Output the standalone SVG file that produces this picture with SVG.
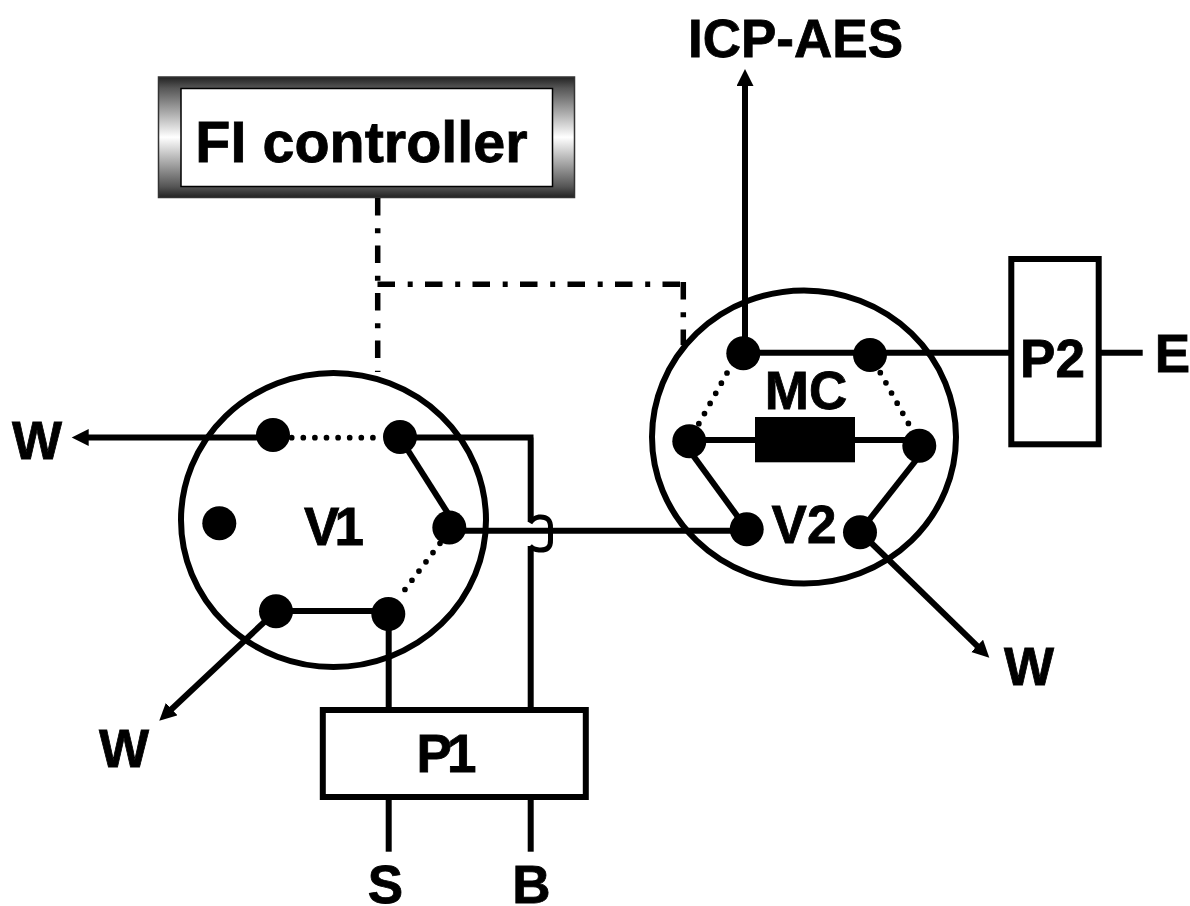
<svg xmlns="http://www.w3.org/2000/svg" width="1190" height="906" viewBox="0 0 1190 906">
<defs>
<linearGradient id="gv" x1="0" y1="0" x2="0" y2="1"><stop offset="0" stop-color="#222"/><stop offset="0.09" stop-color="#555"/><stop offset="0.5" stop-color="#fff"/><stop offset="0.91" stop-color="#555"/><stop offset="1" stop-color="#222"/></linearGradient>
<marker id="arr" markerUnits="userSpaceOnUse" markerWidth="18" markerHeight="18" refX="5" refY="8.500" orient="auto"><path d="M0 0L17 8.500L0 17Z" fill="#000"/></marker>
</defs>
<style>
text{font-family:"Liberation Sans",Arial,sans-serif;font-weight:bold;fill:#000;stroke:#000;stroke-width:.8;text-anchor:middle}
.l{font-size:53px}
.n{font-size:53px;letter-spacing:-5px}
.c{stroke:#000;stroke-width:6;fill:none}
.t{stroke:#000;stroke-width:6;fill:none}
.dot{stroke:#000;stroke-width:5.700;fill:none;stroke-dasharray:0 11.600;stroke-linecap:round}
.dd{stroke:#000;stroke-width:5.500;fill:none;stroke-dasharray:17.500 12.700 5 12.300}
.p{fill:#000}
.box{fill:#fff;stroke:#000;stroke-width:6}
</style>
<g id="controller">
<rect x="158.500" y="77" width="416" height="120.500" fill="url(#gv)" stroke="#333" stroke-width="1.500"/>
<rect x="181" y="88.500" width="371.500" height="98" fill="#fff" stroke="#000" stroke-width="1.500"/>
<text x="361.500" y="161.700" font-size="57.500">FI controller</text>
</g>
<g id="connectors">
<path class="dd" d="M377.700 198V372"/>
<path class="dd" d="M377.500 284.300H685"/>
<path class="dd" d="M683.300 282V345"/>
<path class="t" d="M745 352V81" marker-end="url(#arr)"/>
<path class="t" d="M743 352.700H1011"/>
<path class="t" d="M1099 352.700H1142.700"/>
<path class="t" d="M689 440H919"/>
<path class="t" d="M692 454L738 517"/>
<path class="t" d="M917 459L869 520"/>
<path class="t" d="M860 532L980.700 649.300" marker-end="url(#arr)"/>
<path class="dot" d="M727 373L698.700 424"/>
<path class="dot" d="M880.300 372.700L908.700 424"/>
<path class="t" d="M273 437.500H83.700" marker-end="url(#arr)"/>
<path class="dot" d="M291.700 437.700H384"/>
<path class="t" d="M400 437.500H533.500M530.700 437.500V522"/>
<path class="t" d="M402 441L449 515"/>
<path class="t" d="M449 530.700H747"/>
<path d="M530 523Q533 518 539 517Q551 516 550.500 528V540Q551 551 539 550Q533 549.500 530 546" stroke="#000" stroke-width="5" fill="none"/>
<path class="t" d="M530.700 546V709"/>
<path class="dot" d="M440 543.300L398.300 598.300"/>
<path class="t" d="M276 611H388.700V709"/>
<path class="t" d="M276 611L168 712.500" marker-end="url(#arr)"/>
<path class="t" d="M388.700 797V851.700"/>
<path class="t" d="M530.700 797V851.700"/>
</g>
<g id="V1">
<ellipse class="c" cx="333.500" cy="520" rx="152.500" ry="147"/>
<circle class="p" cx="273" cy="435" r="17"/>
<circle class="p" cx="400" cy="437" r="17"/>
<circle class="p" cx="449.300" cy="527.500" r="17"/>
<circle class="p" cx="388.300" cy="614" r="17"/>
<circle class="p" cx="276" cy="611.300" r="17"/>
<circle class="p" cx="219.300" cy="523.300" r="17"/>
<text x="331.500" y="545" class="n">V1</text>
</g>
<g id="V2">
<ellipse class="c" cx="804" cy="437" rx="152" ry="146.500"/>
<circle class="p" cx="743.300" cy="353.300" r="17"/>
<circle class="p" cx="870" cy="355" r="17"/>
<circle class="p" cx="689.300" cy="441.300" r="17"/>
<circle class="p" cx="919.300" cy="445.700" r="17"/>
<circle class="p" cx="746.700" cy="529.300" r="17"/>
<circle class="p" cx="860" cy="532.300" r="17"/>
<text x="804" y="542.700" class="l">V2</text>
</g>
<g id="MC">
<rect x="755" y="417" width="100" height="45.300" fill="#000"/>
<text x="806" y="409.300" class="l">MC</text>
</g>
<g id="P1">
<rect class="box" x="322.800" y="710" width="263" height="87"/>
<text x="444" y="771.700" class="n">P1</text>
</g>
<g id="P2">
<rect class="box" x="1011.300" y="259" width="87.400" height="185.300"/>
<text x="1052.500" y="376.700" class="l">P2</text>
</g>
<g id="labels">
<text x="795.500" y="56.700" class="l">ICP-AES</text>
<text x="1172.500" y="372.300" class="l">E</text>
<text x="37" y="459" class="l">W</text>
<text x="124" y="767.300" class="l">W</text>
<text x="1029" y="685" class="l">W</text>
<text x="385.500" y="903" class="l">S</text>
<text x="531.500" y="903" class="l">B</text>
</g>
</svg>
